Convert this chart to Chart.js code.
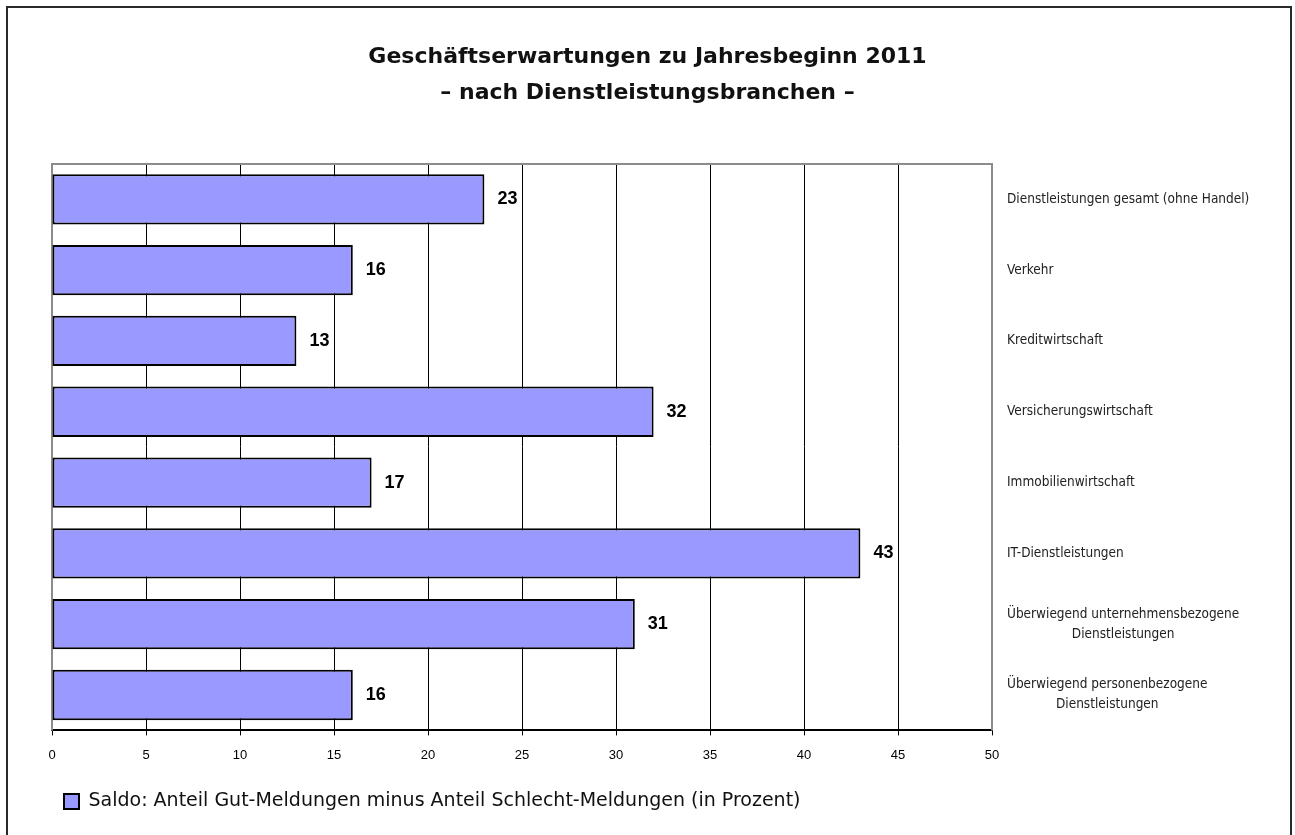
<!DOCTYPE html>
<html lang="de">
<head>
<meta charset="utf-8">
<title>Geschäftserwartungen 2011</title>
<script src="https://cdn.jsdelivr.net/npm/chart.js@4/dist/chart.umd.min.js"></script>
<style>
  html, body { margin: 0; padding: 0; background: #fff; }
  #wrap { position: relative; width: 1295px; height: 835px; }
  #rahmen {
    position: absolute; left: 6px; top: 6px; width: 1282px; height: 840px;
    border: 2px solid #2a2a2a; pointer-events: none;
  }
</style>
</head>
<body>
<div id="wrap">
  <canvas id="grafik" width="1295" height="835"></canvas>
  <div id="rahmen"></div>
</div>
<script>
// Daten
const branchen = [
  'Dienstleistungen gesamt (ohne Handel)',
  'Verkehr',
  'Kreditwirtschaft',
  'Versicherungswirtschaft',
  'Immobilienwirtschaft',
  'IT-Dienstleistungen',
  ['Überwiegend unternehmensbezogene', 'Dienstleistungen'],
  ['Überwiegend personenbezogene', 'Dienstleistungen']
];
const saldo = [23, 16, 13, 32, 17, 43, 31, 16];
const titelZeilen = ['Geschäftserwartungen zu Jahresbeginn 2011', '– nach Dienstleistungsbranchen –'];
const legendeText = 'Saldo: Anteil Gut-Meldungen minus Anteil Schlecht-Meldungen (in Prozent)';
const achseMin = 0;
const achseMax = 50;
const achseSchritt = 5;

// grauer Rahmen der Zeichenfläche (oben, links, rechts)
const rahmenPlugin = {
  id: 'rahmenPlugin',
  beforeDatasetsDraw(chart) {
    const { ctx, chartArea: a } = chart;
    ctx.save();
    ctx.strokeStyle = '#8c8c8c';
    ctx.lineWidth = 2;
    ctx.beginPath();
    ctx.moveTo(a.left, a.bottom);
    ctx.lineTo(a.left, a.top);
    ctx.lineTo(a.right, a.top);
    ctx.lineTo(a.right, a.bottom);
    ctx.stroke();
    ctx.restore();
  }
};

// Werte rechts neben den Balken
const wertePlugin = {
  id: 'wertePlugin',
  afterDatasetsDraw(chart) {
    const { ctx } = chart;
    const meta = chart.getDatasetMeta(0);
    ctx.save();
    ctx.font = 'bold 18px "Liberation Sans", Arial, sans-serif';
    ctx.fillStyle = '#000';
    ctx.textAlign = 'left';
    ctx.textBaseline = 'middle';
    meta.data.forEach((bar, i) => {
      ctx.fillText(String(saldo[i]), bar.x + 13, bar.y);
    });
    ctx.restore();
  }
};

// Branchennamen rechts neben der Zeichenfläche
// (zweite Zeile unter der ersten zentriert, wie im Original)
const branchenPlugin = {
  id: 'branchenPlugin',
  afterDraw(chart) {
    const { ctx, chartArea: a } = chart;
    const y = chart.scales.y;
    const x0 = a.right + 15;
    const zeilenAbstand = 20;
    ctx.save();
    ctx.font = '13.5px "DejaVu Sans Condensed", "DejaVu Sans", sans-serif';
    ctx.fillStyle = '#222';
    ctx.textBaseline = 'middle';
    branchen.forEach((lbl, i) => {
      const py = y.getPixelForValue(i);
      const zeilen = Array.isArray(lbl) ? lbl : [lbl];
      const startY = py - (zeilen.length - 1) * zeilenAbstand / 2;
      const breite = ctx.measureText(zeilen[0]).width;
      zeilen.forEach((z, k) => {
        if (k === 0) {
          ctx.textAlign = 'left';
          ctx.fillText(z, x0, startY);
        } else {
          ctx.textAlign = 'center';
          ctx.fillText(z, x0 + breite / 2, startY + k * zeilenAbstand);
        }
      });
    });
    ctx.restore();
  }
};

new Chart(document.getElementById('grafik'), {
  type: 'bar',
  data: {
    labels: branchen,
    datasets: [{
      label: legendeText,
      data: saldo,
      backgroundColor: '#9999ff',
      borderColor: '#000',
      borderWidth: 2,
      borderSkipped: false,
      barPercentage: 0.71,
      categoryPercentage: 1
    }]
  },
  options: {
    indexAxis: 'y',
    responsive: false,
    animation: false,
    layout: { padding: { left: 52, right: 52, top: 0, bottom: 14 } },
    plugins: {
      tooltip: { enabled: false },
      title: {
        display: true,
        text: titelZeilen,
        color: '#111',
        font: { family: '"DejaVu Sans", sans-serif', size: 22, weight: 'bold', lineHeight: 1.6 },
        padding: { top: 40, bottom: 53.5 }
      },
      legend: {
        display: true,
        position: 'bottom',
        align: 'start',
        labels: {
          color: '#111',
          boxWidth: 15,
          boxHeight: 15,
          padding: 12,
          font: { family: '"DejaVu Sans", sans-serif', size: 19 }
        }
      }
    },
    scales: {
      x: {
        min: achseMin,
        max: achseMax,
        position: 'bottom',
        grid: {
          color: (c) => (c.tick && (c.tick.value === achseMin || c.tick.value === achseMax)) ? 'rgba(0,0,0,0)' : '#000',
          lineWidth: 1,
          drawTicks: true,
          tickLength: 5,
          tickColor: '#000'
        },
        border: { display: true, color: '#000', width: 2 },
        ticks: {
          stepSize: achseSchritt,
          color: '#000',
          padding: 12,
          maxRotation: 0,
          font: { family: '"Liberation Sans", Arial, sans-serif', size: 13 }
        },
        afterFit(scale) { scale.height += 5; }
      },
      y: {
        display: true,
        position: 'right',
        offset: true,
        grid: { display: false },
        border: { display: false },
        ticks: { display: false },
        afterFit(scale) { scale.width = 251; }
      }
    }
  },
  plugins: [rahmenPlugin, wertePlugin, branchenPlugin]
});
</script>
</body>
</html>
